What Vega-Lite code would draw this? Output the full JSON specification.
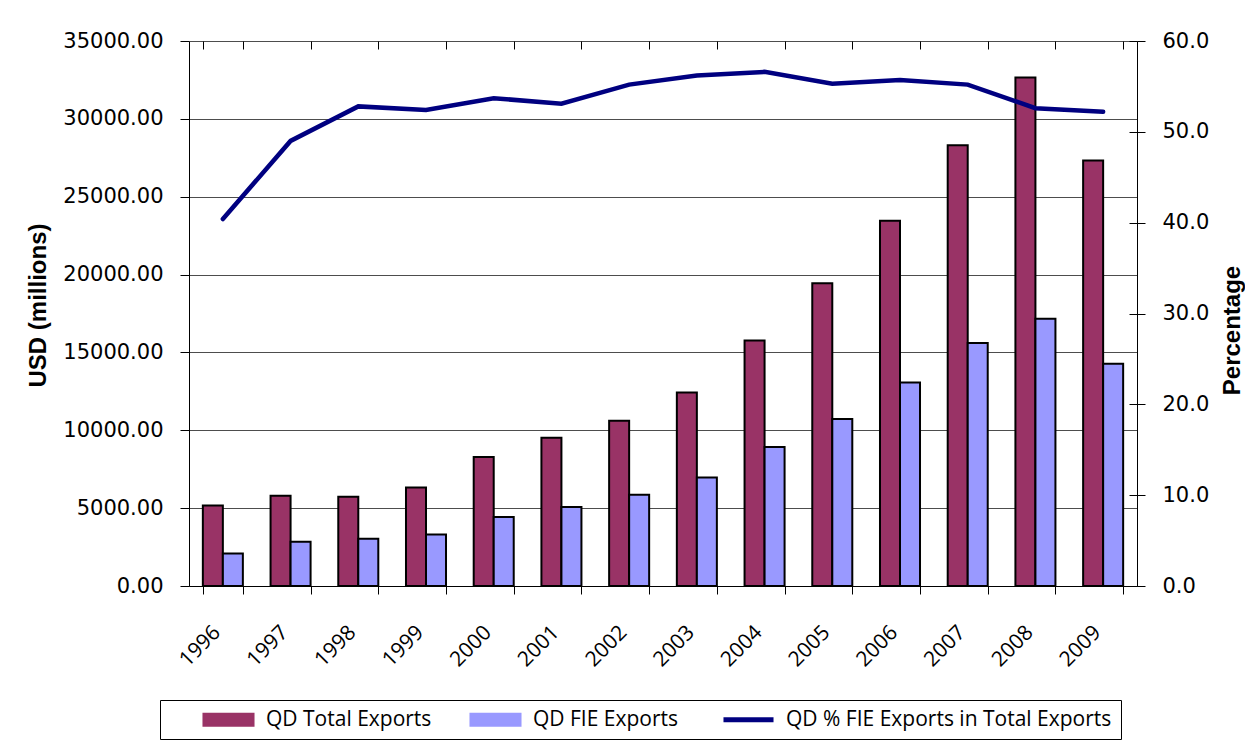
{
  "$schema": "https://vega.github.io/schema/vega-lite/v6.json",
  "width": 948,
  "height": 545,
  "autosize": {"type": "none"},
  "padding": {"left": 189, "top": 41, "right": 108, "bottom": 163},
  "background": "white",
  "config": {"view": {"stroke": null}, "font": "DejaVu Sans"},
  "datasets": {
    "exports": [
      {"year": "1996", "series": "QD Total Exports", "value": 5170},
      {"year": "1996", "series": "QD FIE Exports", "value": 2090},
      {"year": "1997", "series": "QD Total Exports", "value": 5800},
      {"year": "1997", "series": "QD FIE Exports", "value": 2840},
      {"year": "1998", "series": "QD Total Exports", "value": 5730},
      {"year": "1998", "series": "QD FIE Exports", "value": 3040},
      {"year": "1999", "series": "QD Total Exports", "value": 6330},
      {"year": "1999", "series": "QD FIE Exports", "value": 3310},
      {"year": "2000", "series": "QD Total Exports", "value": 8280},
      {"year": "2000", "series": "QD FIE Exports", "value": 4430},
      {"year": "2001", "series": "QD Total Exports", "value": 9520},
      {"year": "2001", "series": "QD FIE Exports", "value": 5070},
      {"year": "2002", "series": "QD Total Exports", "value": 10610},
      {"year": "2002", "series": "QD FIE Exports", "value": 5860},
      {"year": "2003", "series": "QD Total Exports", "value": 12430},
      {"year": "2003", "series": "QD FIE Exports", "value": 6970},
      {"year": "2004", "series": "QD Total Exports", "value": 15770},
      {"year": "2004", "series": "QD FIE Exports", "value": 8920},
      {"year": "2005", "series": "QD Total Exports", "value": 19450},
      {"year": "2005", "series": "QD FIE Exports", "value": 10720},
      {"year": "2006", "series": "QD Total Exports", "value": 23450},
      {"year": "2006", "series": "QD FIE Exports", "value": 13070},
      {"year": "2007", "series": "QD Total Exports", "value": 28310},
      {"year": "2007", "series": "QD FIE Exports", "value": 15600},
      {"year": "2008", "series": "QD Total Exports", "value": 32650},
      {"year": "2008", "series": "QD FIE Exports", "value": 17160},
      {"year": "2009", "series": "QD Total Exports", "value": 27320},
      {"year": "2009", "series": "QD FIE Exports", "value": 14270}
    ],
    "share": [
      {"year": "1996", "series": "QD % FIE Exports in Total Exports", "pct": 40.4},
      {"year": "1997", "series": "QD % FIE Exports in Total Exports", "pct": 49.0},
      {"year": "1998", "series": "QD % FIE Exports in Total Exports", "pct": 52.8},
      {"year": "1999", "series": "QD % FIE Exports in Total Exports", "pct": 52.4},
      {"year": "2000", "series": "QD % FIE Exports in Total Exports", "pct": 53.7},
      {"year": "2001", "series": "QD % FIE Exports in Total Exports", "pct": 53.1},
      {"year": "2002", "series": "QD % FIE Exports in Total Exports", "pct": 55.2},
      {"year": "2003", "series": "QD % FIE Exports in Total Exports", "pct": 56.2},
      {"year": "2004", "series": "QD % FIE Exports in Total Exports", "pct": 56.6},
      {"year": "2005", "series": "QD % FIE Exports in Total Exports", "pct": 55.3},
      {"year": "2006", "series": "QD % FIE Exports in Total Exports", "pct": 55.7},
      {"year": "2007", "series": "QD % FIE Exports in Total Exports", "pct": 55.2},
      {"year": "2008", "series": "QD % FIE Exports in Total Exports", "pct": 52.6},
      {"year": "2009", "series": "QD % FIE Exports in Total Exports", "pct": 52.2}
    ]
  },
  "layer": [
    {
      "data": {"name": "exports"},
      "mark": {"type": "bar", "stroke": "black", "strokeWidth": 2},
      "encoding": {
        "x": {
          "field": "year", "type": "nominal",
          "scale": {"paddingInner": 0.409, "paddingOuter": 0.2045},
          "axis": {
            "title": null, "labelAngle": -45, "labelAlign": "right", "labelBaseline": "middle",
            "labelFont": "Open Sans", "labelFontSize": 21, "labelColor": "black",
            "labelPadding": 35, "labelOffset": -6, "labelOverlap": false,
            "tickBand": "extent", "tickSize": 8, "tickColor": "black",
            "domainColor": "black", "grid": false
          }
        },
        "xOffset": {
          "field": "series", "type": "nominal",
          "scale": {"domain": ["QD Total Exports", "QD FIE Exports"], "paddingInner": 0, "paddingOuter": 0}
        },
        "y": {
          "field": "value", "type": "quantitative",
          "scale": {"domain": [0, 35000], "nice": false},
          "axis": {
            "orient": "left", "title": "USD (millions)",
            "values": [0, 5000, 10000, 15000, 20000, 25000, 30000, 35000],
            "format": ".2f", "labelFont": "DejaVu Sans", "labelFontSize": 21, "labelColor": "black",
            "labelPadding": 17, "labelFlush": false, "tickSize": 9, "tickColor": "black",
            "domainColor": "black", "grid": true, "gridColor": "#4d4d4d", "gridOpacity": 1,
            "titleFont": "Liberation Sans", "titleFontSize": 24, "titleFontWeight": "bold", "titleColor": "black",
            "titleAngle": 270, "titleAlign": "center", "titleBaseline": "alphabetic",
            "titleX": -144, "titleY": 264
          }
        },
        "color": {
          "field": "series", "type": "nominal",
          "scale": {
            "domain": ["QD Total Exports", "QD FIE Exports", "QD % FIE Exports in Total Exports"],
            "range": ["#993366", "#9999FF", "#000080"]
          },
          "legend": {
            "orient": "none", "legendX": -29, "legendY": 659, "direction": "horizontal",
            "title": " ", "titleOrient": "left", "titleFontSize": 10, "titlePadding": 49,
            "labelFont": "Open Sans", "labelFontSize": 21, "labelColor": "black", "labelOffset": 27, "labelLimit": 500,
            "symbolType": "M-4.17,-1H4.17V1H-4.17Z",
            "symbolSize": 144, "symbolStrokeWidth": 2, "symbolStrokeColor": "black", "symbolOpacity": 1,
            "columnPadding": 34,
            "padding": 9, "strokeColor": "black",
            "encode": {
              "symbols": {
                "update": {
                  "shape": {"signal": "datum.value == 'QD % FIE Exports in Total Exports' ? 'M-4.17,0H4.17' : 'M-4.17,-1H4.17V1H-4.17Z'"},
                  "fill": {"signal": "datum.value == 'QD Total Exports' ? '#993366' : datum.value == 'QD FIE Exports' ? '#9999FF' : 'transparent'"},
                  "stroke": {"signal": "datum.value == 'QD % FIE Exports in Total Exports' ? '#000080' : '#000000'"},
                  "strokeWidth": {"signal": "datum.value == 'QD % FIE Exports in Total Exports' ? 5 : 2"}
                }
              }
            }
          }
        }
      }
    },
    {
      "data": {"name": "share"},
      "mark": {"type": "line", "strokeWidth": 4.5, "strokeCap": "round"},
      "encoding": {
        "x": {
          "field": "year", "type": "nominal",
          "axis": {
            "title": null, "labels": false, "domain": false, "tickBand": "extent",
            "tickSize": -8, "tickColor": "black", "grid": false
          }
        },
        "y": {
          "field": "pct", "type": "quantitative",
          "scale": {"domain": [0, 60], "nice": false},
          "axis": {
            "orient": "right", "title": "Percentage",
            "values": [0, 10, 20, 30, 40, 50, 60],
            "format": ".1f", "labelFont": "DejaVu Sans", "labelFontSize": 21, "labelColor": "black",
            "labelPadding": 17, "labelFlush": false, "tickSize": 8, "tickColor": "black",
            "domainColor": "black", "grid": false,
            "titleFont": "Liberation Sans", "titleFontSize": 24, "titleFontWeight": "bold", "titleColor": "black",
            "titleAngle": 270, "titleAlign": "center", "titleBaseline": "alphabetic",
            "titleX": 102, "titleY": 289
          }
        },
        "color": {"field": "series", "type": "nominal", "legend": null}
      }
    },
    {
      "data": {"name": "share"},
      "mark": {"type": "line", "opacity": 0},
      "encoding": {
        "x": {"field": "year", "type": "nominal", "axis": null},
        "y": {
          "field": "pct", "type": "quantitative",
          "scale": {"domain": [0, 60], "nice": false},
          "axis": {
            "orient": "right", "title": null, "values": [0, 10, 20, 30, 40, 50, 60],
            "labels": false, "domain": false, "tickSize": -8, "tickColor": "black", "grid": false
          }
        }
      }
    }
  ],
  "resolve": {"scale": {"y": "independent"}, "axis": {"x": "independent", "y": "independent"}}
}
